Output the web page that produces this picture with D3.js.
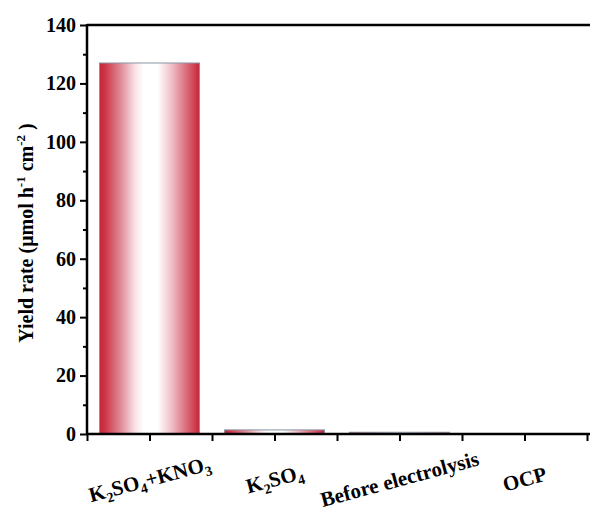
<!DOCTYPE html>
<html>
<head>
<meta charset="utf-8">
<script src="https://cdn.jsdelivr.net/npm/d3@7"></script>
<style>
  body { margin: 0; background: #fff; }
  svg { display: block; font-family: "Liberation Serif", "Times New Roman", serif; font-weight: bold; }
</style>
</head>
<body>
<svg id="chart"></svg>
<script>
const width = 590;
const height = 512;

// data
const categories = ["K2SO4+KNO3", "K2SO4", "Before electrolysis", "OCP"];
const values = [127, 1.4, 0.6, 0];
const yTicks = [0, 20, 40, 60, 80, 100, 120, 140];

// label pieces: [text, isSubscript]
const labelParts = {
  "K2SO4+KNO3": [["K", 0], ["2", 1], ["SO", 0], ["4", 1], ["+KNO", 0], ["3", 1]],
  "K2SO4": [["K", 0], ["2", 1], ["SO", 0], ["4", 1]],
  "Before electrolysis": [["Before electrolysis", 0]],
  "OCP": [["OCP", 0]]
};

const margin = { left: 87, top: 25, bottom: 434, right: 587 };

const svg = d3.select("#chart")
  .attr("width", width)
  .attr("height", height);

const x = d3.scaleBand()
  .domain(categories)
  .range([margin.left, margin.right])
  .paddingInner(0.2)
  .paddingOuter(0.1);

const y = d3.scaleLinear()
  .domain([0, 140])
  .range([margin.bottom, margin.top]);

// gradient for bars
const defs = svg.append("defs");
const grad = defs.append("linearGradient")
  .attr("id", "barGrad")
  .attr("x1", "0%").attr("x2", "100%")
  .attr("y1", "0%").attr("y2", "0%");
[
  [0, "#c62639"], [0.05, "#cb3344"], [0.2, "#de8490"], [0.36, "#fae4e8"],
  [0.44, "#ffffff"], [0.58, "#ffffff"], [0.72, "#f0bfc7"], [0.88, "#d86674"], [1, "#c62639"]
].forEach(s => grad.append("stop").attr("offset", s[0]).attr("stop-color", s[1]));

// bars
svg.selectAll("rect.bar")
  .data(categories)
  .enter()
  .append("rect")
  .attr("class", "bar")
  .attr("x", d => x(d))
  .attr("width", x.bandwidth())
  .attr("y", (d, i) => y(values[i]))
  .attr("height", (d, i) => y(0) - y(values[i]))
  .attr("fill", "url(#barGrad)")
  .attr("stroke", (d, i) => values[i] > 0 ? "#8796a6" : "none")
  .attr("stroke-width", 1);

// y axis
const yAxis = svg.append("g")
  .attr("transform", `translate(${margin.left},0)`)
  .call(d3.axisLeft(y).tickValues(yTicks).tickSize(7).tickPadding(4));
yAxis.select(".domain").remove();
yAxis.selectAll(".tick line").attr("stroke", "#000").attr("stroke-width", 2);
yAxis.selectAll(".tick text")
  .attr("fill", "#000")
  .style("font-size", "20px")
  .style("font-family", "Liberation Serif, serif")
  .style("font-weight", "bold");

// minor y ticks
svg.append("g")
  .attr("transform", `translate(${margin.left},0)`)
  .call(d3.axisLeft(y).tickValues(d3.range(10, 140, 20)).tickSize(4).tickFormat(""))
  .call(g => g.select(".domain").remove())
  .selectAll(".tick line").attr("stroke", "#000").attr("stroke-width", 2);

// x axis ticks at centers and boundaries
const xt = d3.scaleLinear().domain([0, categories.length]).range([margin.left, margin.right]);
svg.append("g")
  .attr("transform", `translate(0,${margin.bottom})`)
  .call(d3.axisBottom(xt).tickValues(d3.range(0, categories.length + 0.01, 0.5)).tickSize(7).tickFormat(""))
  .call(g => g.select(".domain").remove())
  .selectAll(".tick line").attr("stroke", "#000").attr("stroke-width", 2);

// frame lines
svg.append("line")
  .attr("x1", margin.left).attr("x2", width)
  .attr("y1", margin.bottom).attr("y2", margin.bottom)
  .attr("stroke", "#000").attr("stroke-width", 2.5);
svg.append("line")
  .attr("x1", margin.left).attr("x2", width)
  .attr("y1", margin.top).attr("y2", margin.top)
  .attr("stroke", "#000").attr("stroke-width", 2.5);
svg.append("line")
  .attr("x1", margin.left).attr("x2", margin.left)
  .attr("y1", margin.top - 1).attr("y2", margin.bottom + 1)
  .attr("stroke", "#000").attr("stroke-width", 2.5);

// category labels, rotated
categories.forEach(c => {
  const cx = x(c) + x.bandwidth() / 2;
  const t = svg.append("text")
    .attr("transform", `translate(${cx + 2},${486}) rotate(-15)`)
    .attr("text-anchor", "middle")
    .style("font-size", "21px")
    .attr("fill", "#000");
  labelParts[c].forEach(p => {
    const sp = t.append("tspan").text(p[0]);
    if (p[1]) sp.style("font-size", "14px").attr("dy", 5);
    else sp.attr("dy", t.selectAll("tspan").size() > 1 ? -5 : 0);
  });
});

// y label
const yl = svg.append("text")
  .attr("transform", `translate(33,233) rotate(-90)`)
  .attr("text-anchor", "middle")
  .style("font-size", "20px")
  .attr("fill", "#000");
yl.append("tspan").text("Yield rate (μmol h");
yl.append("tspan").text("-1").style("font-size", "13px").attr("dy", -8);
yl.append("tspan").text(" cm").attr("dy", 8);
yl.append("tspan").text("-2").style("font-size", "13px").attr("dy", -8);
yl.append("tspan").text(" )").attr("dy", 8);
</script>
</body>
</html>
